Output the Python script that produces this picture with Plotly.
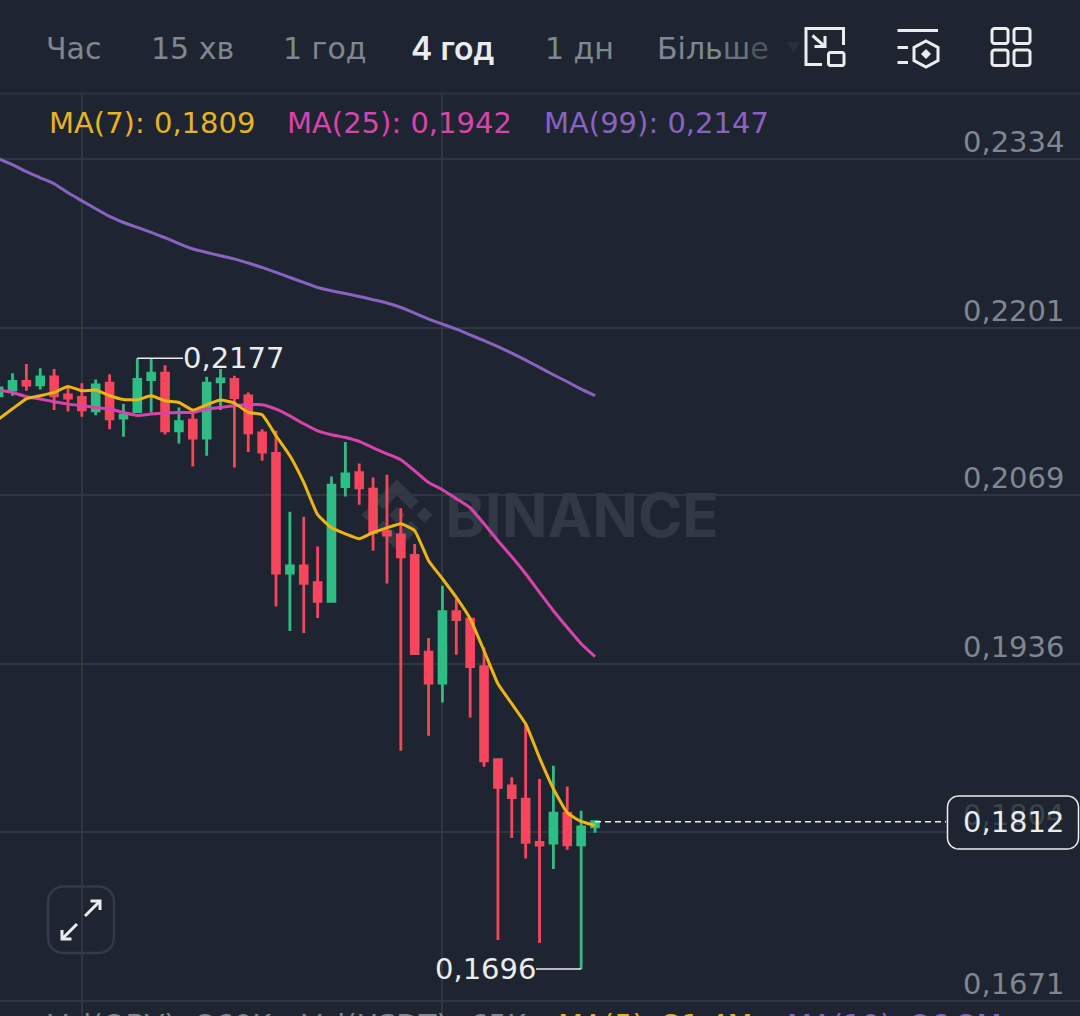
import math
import plotly.graph_objects as go

W, H = 1080, 1016
FONT = "DejaVu Sans"
BG = "#1f2530"
GRID = "#30363f"
UP = "#2ebd85"
DOWN = "#f6465d"
TEXT = "#eaecef"
MUTED = "#7f8792"
YELLOW = "#ecb516"
PINK = "#d943ae"
PURPLE = "#8a62c2"

opens = [.21473, .21518, .21586, .21560, .21623, .21481, .21460, .21355, .21573, .21298, .21350,
         .21602, .21652, .21198, .21282, .21140, .21584, .21602, .21473, .21182, .21019, .20077,
         .20135, .20003, .19855, .20759, .20869, .20739, .20403, .20379, .20216, .19455, .19211,
         .19773, .19715, .19340, .18608, .18401, .18298, .17957, .17952, .18188, .17938, .18080]
highs = [.21686, .21652, .21723, .21691, .21684, .21539, .21573, .21602, .21644, .21408, .21770,
         .21770, .21715, .21381, .21334, .21623, .21684, .21631, .21499, .21211, .21198, .20560,
         .20521, .20287, .20838, .21109, .20940, .20830, .20851, .20589, .20306, .19566, .19978,
         .19873, .19715, .19491, .18608, .18469, .18899, .18456, .18560, .18397, .18206, .18120]
lows = [.21450, .21473, .21513, .21523, .21361, .21350, .21308, .21321, .21211, .21151, .21350,
        .21342, .21169, .21098, .20917, .21001, .21361, .20909, .21030, .20962, .19815, .19621,
        .19605, .19723, .19847, .20680, .20615, .20253, .19996, .18678, .19442, .18796, .19059,
        .19434, .18941, .18553, .17188, .17991, .17830, .17164, .17747, .17899, .16960, .18033]
closes = [.21536, .21586, .21558, .21623, .21473, .21455, .21363, .21560, .21292, .21324, .21602,
          .21652, .21198, .21269, .21140, .21573, .21607, .21460, .21182, .21030, .20077, .20135,
          .19996, .19855, .20770, .20859, .20749, .20397, .20377, .20206, .19444, .19211, .19773,
          .19712, .19342, .18600, .18390, .18309, .17957, .17936, .18188, .17938, .18078, .18120]

ma7 = [.21289, .21371, .21450, .21474, .21500, .21547, .21513, .21519, .21474, .21445, .21442,
       .21474, .21434, .21421, .21361, .21403, .21440, .21416, .21342, .21324, .21159, .21001,
       .20791, .20537, .20434, .20387, .20348, .20397, .20434, .20466, .20411, .20175, .20033,
       .19886, .19718, .19466, .19206, .19049, .18891, .18623, .18379, .18190, .18122, .18090]
ma25 = [.21519, .21500, .21466, .21448, .21427, .21408, .21395, .21382, .21369, .21342, .21319,
        .21330, .21338, .21342, .21342, .21369, .21382, .21395, .21403, .21403, .21369, .21316,
        .21253, .21198, .21167, .21145, .21114, .21064, .21017, .20970, .20883, .20791, .20734,
        .20663, .20592, .20466, .20332, .20206, .20072, .19925, .19781, .19649, .19521, .19420]
ma99 = [.23340, .23293, .23238, .23190, .23143, .23072, .23009, .22946, .22886, .22838, .22799,
        .22760, .22718, .22671, .22629, .22602, .22576, .22552, .22519, .22484, .22445, .22405,
        .22366, .22326, .22300, .22279, .22256, .22230, .22204, .22169, .22125, .22078, .22038,
        .21999, .21954, .21907, .21860, .21810, .21755, .21697, .21639, .21584, .21526, .21474]

grid_prices = [0.2334, 0.2201, 0.2069, 0.1936, 0.1804, 0.1671]
grid_labels = ["0,2334", "0,2201", "0,2069", "0,1936", "0,1804", "0,1671"]
time_grid = [6, 32]
intervals = ["Час", "15 хв", "1 год", "1 дн"]
active_interval = "4 год"

high_mark = 0.2177
low_mark = 0.1696
last_price = 0.1812

candle_index = list(range(len(closes)))

Y_RANGE = [0.16590, 0.24590]
X_RANGE = [0.0988, 77.97]
PX_PER_CANDLE = W / (X_RANGE[1] - X_RANGE[0])


def idx_at(px_x):
    return X_RANGE[0] + px_x / PX_PER_CANDLE


def price_at(px_y):
    return Y_RANGE[1] - px_y * (Y_RANGE[1] - Y_RANGE[0]) / H


def px(x):
    return x / W


def py(y):
    return 1 - y / H


def poly(points, close=True):
    body = " L ".join(f"{px(x):.5f},{py(y):.5f}" for x, y in points)
    return "M " + body + (" Z" if close else "")


def round_rect(x0, y0, x1, y1, r):
    n = 6
    pts = []
    corners = [(x1 - r, y0 + r, -90), (x1 - r, y1 - r, 0), (x0 + r, y1 - r, 90), (x0 + r, y0 + r, 180)]
    for cx, cy, start in corners:
        for k in range(n + 1):
            a = math.radians(start + 90 * k / n)
            pts.append((cx + r * math.cos(a), cy + r * math.sin(a)))
    return poly(pts)


shapes = []


def stroke(path, color=TEXT, width=3, fill=None, layer="above"):
    shapes.append(dict(type="path", xref="paper", yref="paper", path=path, layer=layer,
                       line=dict(color=color, width=width),
                       fillcolor=fill if fill else "rgba(0,0,0,0)"))


def solid(path, color, layer="above"):
    shapes.append(dict(type="path", xref="paper", yref="paper", path=path, layer=layer,
                       line=dict(width=0), fillcolor=color))


# header strip and its divider sit over the vertical grid lines
solid(poly([(0, 0), (W, 0), (W, 92), (0, 92)]), BG)
solid(poly([(0, 92), (W, 92), (W, 95), (0, 95)]), "#2a303b")

# exchange mark behind the candles
LOGO = "#333944"


def logo_pts(points, cx=397, cy=515, s=0.56):
    return [(cx + (a - 63.3) * s, cy + (b - 63.3) * s) for a, b in points]


solid(poly(logo_pts([(38.7, 53.2), (63.3, 28.6), (87.9, 53.2), (102.2, 38.9), (63.3, 0), (24.4, 38.9)])), LOGO, "below")
solid(poly(logo_pts([(38.7, 73.4), (63.3, 98), (87.9, 73.4), (102.2, 87.7), (63.3, 126.6), (24.4, 87.7)])), LOGO, "below")
solid(poly(logo_pts([(0, 63.3), (14.3, 49), (28.6, 63.3), (14.3, 77.6)])), LOGO, "below")
solid(poly(logo_pts([(98, 63.3), (112.3, 49), (126.6, 63.3), (112.3, 77.6)])), LOGO, "below")
solid(poly(logo_pts([(77.8, 63.3), (63.3, 48.8), (48.8, 63.3), (63.3, 77.8)])), LOGO, "below")

# layout icon
stroke(poly([(822, 64.5), (806, 64.5), (806, 28.5), (843.5, 28.5), (843.5, 45)], close=False))
stroke(round_rect(828.5, 52.5, 844, 65.5, 2))
stroke(poly([(812.5, 35.5), (825, 46.5)], close=False))
stroke(poly([(814.5, 46.5), (825, 46.5), (825, 36)], close=False))

# indicators icon
stroke(poly([(897.5, 30.5), (938, 30.5)], close=False))
stroke(poly([(897.5, 47.5), (908, 47.5)], close=False))
stroke(poly([(897.5, 62.5), (908, 62.5)], close=False))
stroke(poly([(926, 41), (938, 47.5), (938, 60.5), (926, 67), (914, 60.5), (914, 47.5)]))
solid(poly([(926, 49), (931, 54), (926, 59), (921, 54)]), TEXT)

# grid icon
stroke(round_rect(992, 28.5, 1008, 43.5, 2.5))
stroke(round_rect(1014, 28.5, 1030, 43.5, 2.5))
stroke(round_rect(992, 50, 1008, 65.5, 2.5))
stroke(round_rect(1014, 50, 1030, 65.5, 2.5))

# expand button
stroke(round_rect(48, 886.5, 114, 953, 15), color="#343a46", width=2.5)
stroke(poly([(85, 916), (100, 901)], close=False))
stroke(poly([(90.5, 901), (100, 901), (100, 910)], close=False))
stroke(poly([(77, 924), (62, 939)], close=False))
stroke(poly([(62, 930), (62, 939), (71.5, 939)], close=False))

# last price box hides the grid line it overlaps
stroke(round_rect(947.5, 796, 1078.5, 849, 11), color=TEXT, width=1.5, fill=BG)

# dropdown caret fading into the header
solid(poly([(787, 42), (800, 42), (793.5, 53)]), "#2b313c")

annotations = []
SIDE_PAD = 2


def label(text, x, y, color=TEXT, size=29, anchor="left", family=FONT, weight="normal"):
    x_pos = x - SIDE_PAD if anchor == "left" else x + SIDE_PAD
    annotations.append(dict(text=text, xref="paper", yref="paper", x=px(x_pos), y=py(y),
                            xanchor=anchor, yanchor="middle", showarrow=False,
                            font=dict(family=family, size=size, color=color, weight=weight)))


for name, x in zip(intervals, [46, 151, 283, 545]):
    label(name, x, 48, color=MUTED, size=30)
label(active_interval, 411, 48, color=TEXT, size=32, family="Inter", weight=600)
label('<span style="color:#7f8792">Біль</span><span style="color:#6a717c">ш</span>'
      '<span style="color:#50565f">е</span>', 657, 48, size=30)

label("MA(7): 0,1809", 49, 123, color="#e6b325", size=29)
label("MA(25): 0,1942", 287, 123, color=PINK, size=29)
label("MA(99): 0,2147", 544, 123, color=PURPLE, size=29)

for price, text in zip(grid_prices, grid_labels):
    dim = text == "0,1804"
    annotations.append(dict(text=text, xref="paper", yref="y", x=px(1066), y=price, yshift=17,
                            xanchor="right", yanchor="middle", showarrow=False,
                            font=dict(family=FONT, size=29, color="#3d434e" if dim else MUTED)))
annotations.append(dict(text="0,1812", xref="paper", yref="y", x=px(1066), y=last_price,
                        xanchor="right", yanchor="middle", showarrow=False,
                        font=dict(family=FONT, size=29, color=TEXT)))

annotations.append(dict(text="0,2177", xref="x", yref="y", x=idx_at(181), y=high_mark,
                        xanchor="left", yanchor="middle", showarrow=False,
                        font=dict(family=FONT, size=29, color=TEXT)))
annotations.append(dict(text="0,1696", xref="x", yref="y", x=idx_at(538), y=low_mark,
                        xanchor="right", yanchor="middle", showarrow=False,
                        font=dict(family=FONT, size=29, color=TEXT)))

# volume readout, cut off by the bottom edge
for text, x, color in [("Vol(OBV):", 48, MUTED), ("260K", 197, MUTED), ("Vol(USDT):", 302, MUTED),
                       ("65K", 470, MUTED), ("MA(5):", 558, "#e6b325"), ("21,4M", 663, "#e6b325"),
                       ("MA(10):", 787, PURPLE), ("26,2M", 912, PURPLE)]:
    label(text, x, 1025, color=color)

fig = go.Figure()
fig.add_trace(go.Candlestick(
    x=candle_index, open=opens, high=highs, low=lows, close=closes,
    increasing=dict(line=dict(color=UP, width=2.8), fillcolor=UP),
    decreasing=dict(line=dict(color=DOWN, width=2.8), fillcolor=DOWN),
    whiskerwidth=0, hoverinfo="skip", showlegend=False,
))
fig.add_trace(go.Scatter(
    x=[idx_at(582)], y=[price_at(522)], mode="text", text=["BINANCE"],
    textposition="middle center", hoverinfo="skip", showlegend=False,
    textfont=dict(family="Inter", size=60, color="#333944", weight="bold"),
))
for values, color in [(ma99, PURPLE), (ma25, PINK), (ma7, YELLOW)]:
    fig.add_trace(go.Scatter(x=candle_index, y=values, mode="lines", hoverinfo="skip", showlegend=False,
                             line=dict(color=color, width=3, shape="spline", smoothing=0.4)))

# leader lines to the high and low labels
for x_end, level, i_mark in [(idx_at(183), high_mark, 10), (idx_at(536), low_mark, 42)]:
    fig.add_trace(go.Scatter(x=[i_mark, x_end], y=[level, level], mode="lines", hoverinfo="skip",
                             showlegend=False, line=dict(color=TEXT, width=1.5)))
fig.add_trace(go.Scatter(x=[43, idx_at(946)], y=[last_price, last_price], mode="lines", hoverinfo="skip",
                         showlegend=False, line=dict(color=TEXT, width=1.5, dash="6px,4px")))

fig.update_layout(
    width=W, height=H, margin=dict(l=0, r=0, t=0, b=0),
    paper_bgcolor=BG, plot_bgcolor=BG, showlegend=False,
    shapes=shapes, annotations=annotations,
    xaxis=dict(range=X_RANGE, rangeslider=dict(visible=False), tickmode="array", tickvals=time_grid,
               showticklabels=False, showgrid=True, gridcolor=GRID, gridwidth=1.5, zeroline=False,
               showline=False, ticks=""),
    yaxis=dict(range=Y_RANGE, tickmode="array", tickvals=grid_prices, showticklabels=False,
               showgrid=True, gridcolor=GRID, gridwidth=1.5, zeroline=False, showline=False, ticks=""),
)

fig.write_html("out.html", config=dict(displayModeBar=False))
